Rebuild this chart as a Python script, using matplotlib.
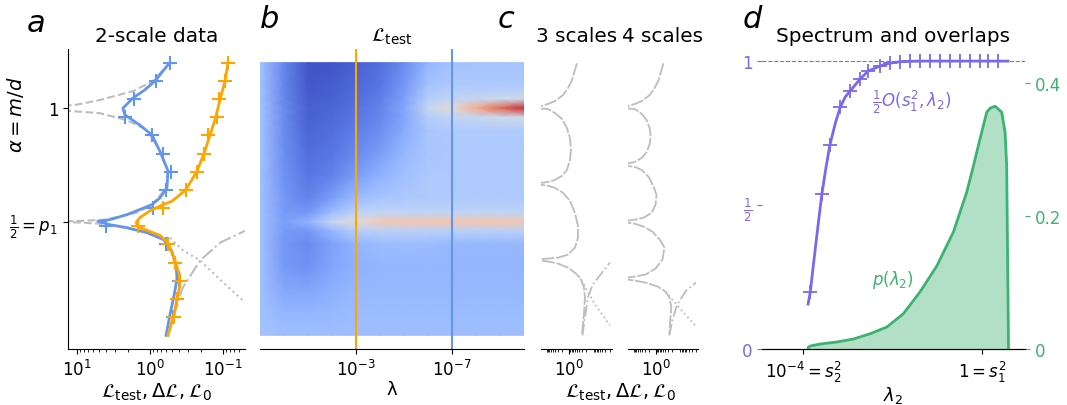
import numpy as np
import matplotlib.pyplot as plt
from matplotlib.ticker import NullLocator, LogLocator, FixedLocator

plt.rcParams['font.size'] = 12

# ---------------- panel a : 2-scale data (x = log10 of loss, y = alpha)
blue_logx = [-0.274, -0.17, -0.082, 0.07, 0.233, 0.33, 0.37, 0.342, 0.137, -0.027, -0.137, -0.247,
             -0.233, -0.137, -0.027, 0.315, 0.548, 0.712, 0.548, 0.315, 0.04, -0.19, -0.3, -0.36,
             -0.37, -0.33, -0.28, -0.22]
blue_alpha = [1.2, 1.16, 1.123, 1.08, 1.044, 1.012, 1.0, 0.97, 0.925, 0.882, 0.81, 0.724,
              0.65, 0.605, 0.575, 0.531, 0.509, 0.502, 0.487, 0.474, 0.452, 0.421, 0.37, 0.3,
              0.25, 0.175, 0.1, 0.0]
blue_mk_logx = [-0.274, -0.082, 0.219, 0.342, -0.027, -0.178, -0.288, -0.219, -0.04, 0.60,
                -0.219, -0.34, -0.40, -0.37, -0.315]
orange_logx = [-1.068, -1.027, -0.96, -0.9, -0.82, -0.74, -0.64, -0.49, -0.3, -0.178, 0.0, 0.137,
               0.19, 0.137, -0.137, -0.247, -0.342, -0.40, -0.411, -0.37, -0.329, -0.247]
orange_alpha = [1.2, 1.12, 1.04, 0.96, 0.88, 0.8, 0.72, 0.64, 0.59, 0.575, 0.548, 0.518,
                0.496, 0.474, 0.44, 0.408, 0.329, 0.27, 0.22, 0.16, 0.092, 0.0]
orange_mk_logx = [-1.068, -1.027, -0.945, -0.918, -0.795, -0.74, -0.644, -0.493, -0.178, 0.164,
                  -0.247, -0.342, -0.411, -0.37, -0.329]
marker_alpha = [1.2, 1.12, 1.04, 0.96, 0.88, 0.8, 0.72, 0.64, 0.56, 0.48, 0.4, 0.32, 0.24, 0.16, 0.08]

dash_logx = [-0.27, -0.04, 0.23, 0.69, 1.0, 1.5, 1.5, 1.0, 0.69, 0.32, 0.04, -0.14, -0.25, -0.23,
             -0.03, 0.18, 0.62, 1.0, 1.5, 1.5, 1.0, 0.62, 0.3, 0.04, -0.19]
dash_alpha = [1.2, 1.118, 1.075, 1.035, 1.015, 1.001, 0.999, 0.985, 0.978, 0.947, 0.904, 0.81,
              0.724, 0.65, 0.575, 0.54, 0.509, 0.503, 0.501, 0.499, 0.497, 0.49, 0.47, 0.452,
              0.421]
dot_logx = [-0.274, -0.452, -0.685, -0.96, -1.3]
dot_alpha = [0.43, 0.373, 0.33, 0.245, 0.145]
dashdot_logx = [-0.33, -0.37, -0.45, -0.685, -0.96, -1.3]
dashdot_alpha = [0.08, 0.136, 0.21, 0.329, 0.408, 0.46]

# ---------------- panel b : test loss heatmap (colour value in coolwarm units)
heat_loglam = [1, 0, -1, -2, -3, -4, -5, -6, -7, -8, -9, -10]
heat_alpha = [1.2, 1.1, 1.04, 1.0, 0.96, 0.9, 0.8, 0.7, 0.6, 0.54, 0.5, 0.46, 0.4, 0.3, 0.2, 0.1, 0.0]
heat_vals = [
    [0.32, 0.14, 0.02, 0.02, 0.05, 0.08, 0.15, 0.27, 0.31, 0.32, 0.32, 0.32],
    [0.32, 0.14, 0.03, 0.04, 0.07, 0.10, 0.18, 0.32, 0.35, 0.34, 0.34, 0.34],
    [0.32, 0.14, 0.04, 0.05, 0.08, 0.12, 0.21, 0.37, 0.40, 0.42, 0.44, 0.45],
    [0.32, 0.15, 0.05, 0.06, 0.09, 0.13, 0.22, 0.42, 0.52, 0.70, 0.85, 0.96],
    [0.32, 0.15, 0.05, 0.07, 0.10, 0.14, 0.22, 0.37, 0.40, 0.42, 0.44, 0.45],
    [0.32, 0.15, 0.06, 0.08, 0.12, 0.16, 0.24, 0.33, 0.35, 0.35, 0.35, 0.35],
    [0.32, 0.16, 0.08, 0.10, 0.15, 0.20, 0.28, 0.33, 0.34, 0.34, 0.34, 0.34],
    [0.31, 0.17, 0.10, 0.13, 0.20, 0.26, 0.31, 0.34, 0.34, 0.34, 0.34, 0.34],
    [0.31, 0.18, 0.13, 0.20, 0.30, 0.33, 0.34, 0.35, 0.35, 0.35, 0.35, 0.35],
    [0.31, 0.19, 0.18, 0.30, 0.40, 0.40, 0.40, 0.40, 0.40, 0.40, 0.40, 0.40],
    [0.31, 0.20, 0.26, 0.42, 0.52, 0.60, 0.62, 0.62, 0.62, 0.62, 0.62, 0.62],
    [0.31, 0.19, 0.18, 0.28, 0.37, 0.38, 0.38, 0.38, 0.38, 0.38, 0.38, 0.38],
    [0.31, 0.18, 0.15, 0.21, 0.27, 0.29, 0.29, 0.29, 0.28, 0.28, 0.28, 0.28],
    [0.31, 0.19, 0.17, 0.22, 0.26, 0.27, 0.27, 0.27, 0.27, 0.27, 0.27, 0.27],
    [0.31, 0.23, 0.22, 0.25, 0.28, 0.28, 0.28, 0.28, 0.28, 0.28, 0.28, 0.28],
    [0.31, 0.27, 0.27, 0.28, 0.29, 0.29, 0.29, 0.29, 0.29, 0.29, 0.29, 0.29],
    [0.32, 0.30, 0.30, 0.30, 0.30, 0.30, 0.30, 0.30, 0.30, 0.30, 0.30, 0.30],
]
lam_orange = 1e-3
lam_blue = 1e-7

# ---------------- panel c : 3 and 4 scales
c3_logx = [-0.319, -0.108, 0.061, 0.272, 0.609, 0.905, 1.5,
           0.905, 0.609, 0.314, 0.103, -0.024, -0.066, -0.024, 0.103, 0.314, 0.609, 0.905, 1.5,
           0.905, 0.609, 0.272, -0.024, -0.235, -0.361, -0.361, -0.235, 0.061, 0.483, 0.905, 1.5,
           0.905, 0.483, 0.061, -0.277, -0.488, -0.614, -0.657, -0.614, -0.53]
c3_alpha = [1.197, 1.123, 1.088, 1.057, 1.031, 1.018, 1.0,
            0.996, 0.978, 0.952, 0.912, 0.868, 0.816, 0.772, 0.728, 0.702, 0.684, 0.675, 0.667,
            0.658, 0.649, 0.627, 0.592, 0.539, 0.482, 0.43, 0.386, 0.355, 0.342, 0.338, 0.333,
            0.325, 0.316, 0.298, 0.272, 0.246, 0.211, 0.167, 0.092, 0.004]
c3_dot_logx = [-0.4, -1.08, -1.71]
c3_dot_alpha = [0.262, 0.136, 0.044]
c3_dd_logx = [-0.55, -0.66, -0.78, -0.99, -1.71]
c3_dd_alpha = [0.0, 0.08, 0.167, 0.224, 0.32]

c4_logx = [-0.319, -0.108, 0.061, 0.272, 0.609, 0.905, 1.5,
           0.905, 0.609, 0.398, 0.272, 0.23, 0.272, 0.398, 0.609, 0.905, 1.5,
           0.905, 0.609, 0.314, 0.103, -0.024, 0.019, 0.187, 0.525, 0.905, 1.5,
           0.905, 0.525, 0.145, -0.192, -0.361, -0.277, 0.019, 0.441, 0.905, 1.5,
           0.905, 0.441, -0.066, -0.403, -0.572, -0.657, -0.614, -0.572]
c4_alpha = [1.197, 1.123, 1.088, 1.057, 1.031, 1.018, 1.0,
            0.996, 0.974, 0.947, 0.912, 0.877, 0.842, 0.807, 0.781, 0.763, 0.75,
            0.741, 0.728, 0.697, 0.654, 0.618, 0.575, 0.539, 0.518, 0.509, 0.5,
            0.491, 0.478, 0.456, 0.417, 0.386, 0.333, 0.294, 0.268, 0.259, 0.25,
            0.241, 0.232, 0.215, 0.193, 0.167, 0.123, 0.07, 0.004]
c4_dot_logx = [-0.403, -1.1, -1.75]
c4_dot_alpha = [0.193, 0.11, 0.035]
c4_dd_logx = [-0.57, -0.7, -0.91, -1.29, -1.71]
c4_dd_alpha = [0.0, 0.066, 0.136, 0.197, 0.232]

# ---------------- panel d : spectrum and overlaps
ov_loglam = [-3.89, -3.84, -3.78, -3.69, -3.58, -3.49, -3.40, -3.28, -3.17, -3.06, -2.95, -2.73,
             -2.55, -2.28, -2.06, -1.83, -1.39, 0.58]
ov_vals = [0.156, 0.198, 0.28, 0.40, 0.54, 0.63, 0.71, 0.785, 0.84, 0.875, 0.896, 0.937,
           0.965, 0.983, 0.993, 0.998, 1.0, 1.0]
ov_mk_loglam = [-3.84, -3.58, -3.40, -3.17, -2.95, -2.73, -2.54, -2.28, -2.06, -1.83, -1.61, -1.39,
                -1.16, -0.94, -0.72, -0.49, -0.27, -0.04, 0.13, 0.36]
ov_mk_vals = [0.198, 0.54, 0.71, 0.84, 0.896, 0.937, 0.965, 0.983, 0.993, 0.998, 1.0, 1.0,
              1.0, 1.0, 1.0, 1.0, 1.0, 1.0, 1.0, 1.0]
sp_loglam = [-3.89, -3.88, -3.84, -3.62, -3.247, -2.876, -2.50, -2.13, -1.76, -1.385, -1.01,
             -0.64, -0.342, -0.194, -0.045, 0.105, 0.18, 0.29, 0.44, 0.514, 0.551, 0.565, 0.588,
             0.59]
sp_vals = [0.0, 0.003, 0.0045, 0.0075, 0.0105, 0.015, 0.023, 0.033, 0.053, 0.086, 0.125,
           0.176, 0.236, 0.275, 0.316, 0.356, 0.362, 0.365, 0.356, 0.326, 0.275, 0.176, 0.026,
           0.0]

blue = 'cornflowerblue'
orange = 'orange'
purple = 'mediumslateblue'
green = 'mediumseagreen'
grey = '#bdbdbd'
W, H = 1067, 406
math_label = r'$\mathcal{L}_\mathrm{test}, \Delta\mathcal{L}, \mathcal{L}_0$'


def box(x0, x1, y0=50, y1=350):
    return [x0 / W, (H - y1) / H, (x1 - x0) / W, (y1 - y0) / H]


fig = plt.figure(figsize=(10.67, 4.06), dpi=100)

# a
ax = fig.add_axes(box(68, 245))
ax.plot(10 ** np.array(dash_logx), dash_alpha, '--', color=grey, lw=1.5, zorder=1)
ax.plot(10 ** np.array(dot_logx), dot_alpha, ':', color=grey, lw=1.5, zorder=1)
ax.plot(10 ** np.array(dashdot_logx), dashdot_alpha, '-.', color=grey, lw=1.5, zorder=1)
ax.plot(10 ** np.array(blue_logx), blue_alpha, color=blue, lw=2, zorder=2)
ax.plot(10 ** np.array(blue_mk_logx), marker_alpha, '+', color=blue, ms=10, mew=1.5, zorder=2)
ax.plot(10 ** np.array(orange_logx), orange_alpha, color=orange, lw=2, zorder=3)
ax.plot(10 ** np.array(orange_mk_logx), marker_alpha, '+', color=orange, ms=10, mew=1.5, zorder=3)
ax.set_xscale('log')
ax.set_xlim(10 ** 1.12, 10 ** -1.3)
ax.set_ylim(-0.06, 1.26)
ax.set_yticks([0.5, 1])
ax.set_yticklabels([r'$\frac{1}{2} = p_1$', '1'])
ax.set_title('2-scale data')
ax.spines[['top', 'right']].set_visible(False)
fig.text(15 / W, (H - 115) / H, r'$\alpha = m/d$', rotation=90, ha='center', va='center',
         fontsize=14)
fig.text(156 / W, (H - 392) / H, math_label, ha='center', va='center', fontsize=14)

# b
ax = fig.add_axes(box(260, 524))
ax.pcolormesh(10.0 ** np.array(heat_loglam), heat_alpha, np.array(heat_vals),
              shading='gouraud', cmap='coolwarm', vmin=0, vmax=1)
ax.axvline(lam_orange, color=orange, lw=1.5)
ax.axvline(lam_blue, color=blue, lw=1.5)
ax.set_xscale('log')
ax.set_xlim(10, 1e-10)
ax.set_ylim(-0.06, 1.26)
ax.set_xticks([1e-3, 1e-7])
ax.xaxis.set_minor_locator(NullLocator())
ax.set_yticks([])
ax.set_title(r'$\mathcal{L}_\mathrm{test}$', fontsize=14)
ax.spines[['top', 'right', 'left']].set_visible(False)
fig.text(392 / W, (H - 390) / H, 'λ', ha='center', va='center', fontsize=13)

# c
for x0, x1, lx, la, dx, da, ddx, dda, ttl in [
        (541, 612, c3_logx, c3_alpha, c3_dot_logx, c3_dot_alpha, c3_dd_logx, c3_dd_alpha, '3 scales'),
        (628, 698, c4_logx, c4_alpha, c4_dot_logx, c4_dot_alpha, c4_dd_logx, c4_dd_alpha, '4 scales')]:
    ax = fig.add_axes(box(x0, x1))
    ax.plot(10 ** np.array(lx), la, color=grey, lw=1.3, ls=(0, (7, 1)))
    ax.plot(10 ** np.array(dx), da, ':', color=grey, lw=1.3)
    ax.plot(10 ** np.array(ddx), dda, '-.', color=grey, lw=1.3)
    ax.set_xscale('log')
    ax.set_xlim(10 ** 1.2, 10 ** -1.8)
    ax.set_ylim(-0.06, 1.26)
    ax.xaxis.set_major_locator(FixedLocator([1]))
    ax.xaxis.set_minor_locator(LogLocator(subs=np.arange(2, 10), numticks=20))
    ax.set_xticklabels([r'$10^0$'])
    ax.set_yticks([])
    ax.set_title(ttl)
    ax.spines[['top', 'right', 'left']].set_visible(False)
fig.text(620 / W, (H - 392) / H, math_label, ha='center', va='center', fontsize=14)

# d
ax = fig.add_axes(box(762, 1025))
ax2 = ax.twinx()
ax.axhline(1, color='grey', ls='--', lw=0.8)
ax.plot(10 ** np.array(ov_loglam), ov_vals, color=purple, lw=2)
ax.plot(10 ** np.array(ov_mk_loglam), ov_mk_vals, '+', color=purple, ms=10, mew=1.3)
ax2.plot(10 ** np.array(sp_loglam), sp_vals, color=green, lw=2)
ax2.fill_between(10 ** np.array(sp_loglam), sp_vals, color=green, alpha=0.4, lw=0)
ax.set_xscale('log')
ax.set_xlim(10 ** -4.92, 10 ** 0.96)
ax.set_ylim(0, 1.042)
ax2.set_ylim(0, 0.451)
ax.set_xticks([1e-4, 1])
ax.set_xticklabels([r'$10^{-4} = s_2^2$', r'$1 = s_1^2$'])
ax.xaxis.set_minor_locator(NullLocator())
ax.set_yticks([0, 0.5, 1])
ax.set_yticklabels(['0', r'$\frac{1}{2}$', '1'])
ax.tick_params(axis='y', colors=purple)
ax2.set_yticks([0, 0.2, 0.4])
ax2.set_yticklabels(['0', '0.2', '0.4'])
ax2.tick_params(axis='y', colors=green)
ax.spines[['top', 'right', 'left']].set_visible(False)
ax2.spines[['top', 'right', 'left']].set_visible(False)
ax.text(10 ** -2.46, 0.861, r'$\frac{1}{2}O(s_1^2, \lambda_2)$', color=purple, va='center')
ax.text(10 ** -2.46, 0.243, r'$p(\lambda_2)$', color=green, va='center')
ax.set_title('Spectrum and overlaps')
fig.text(893 / W, (H - 396) / H, r'$\lambda_2$', ha='center', va='center', fontsize=13)

for letter, x, y in [('a', 27, 32), ('b', 260, 28), ('c', 498, 28), ('d', 743, 28)]:
    fig.text(x / W, (H - y) / H, letter, fontsize=22, style='italic', va='baseline')

fig.savefig('out.png', dpi=100)
